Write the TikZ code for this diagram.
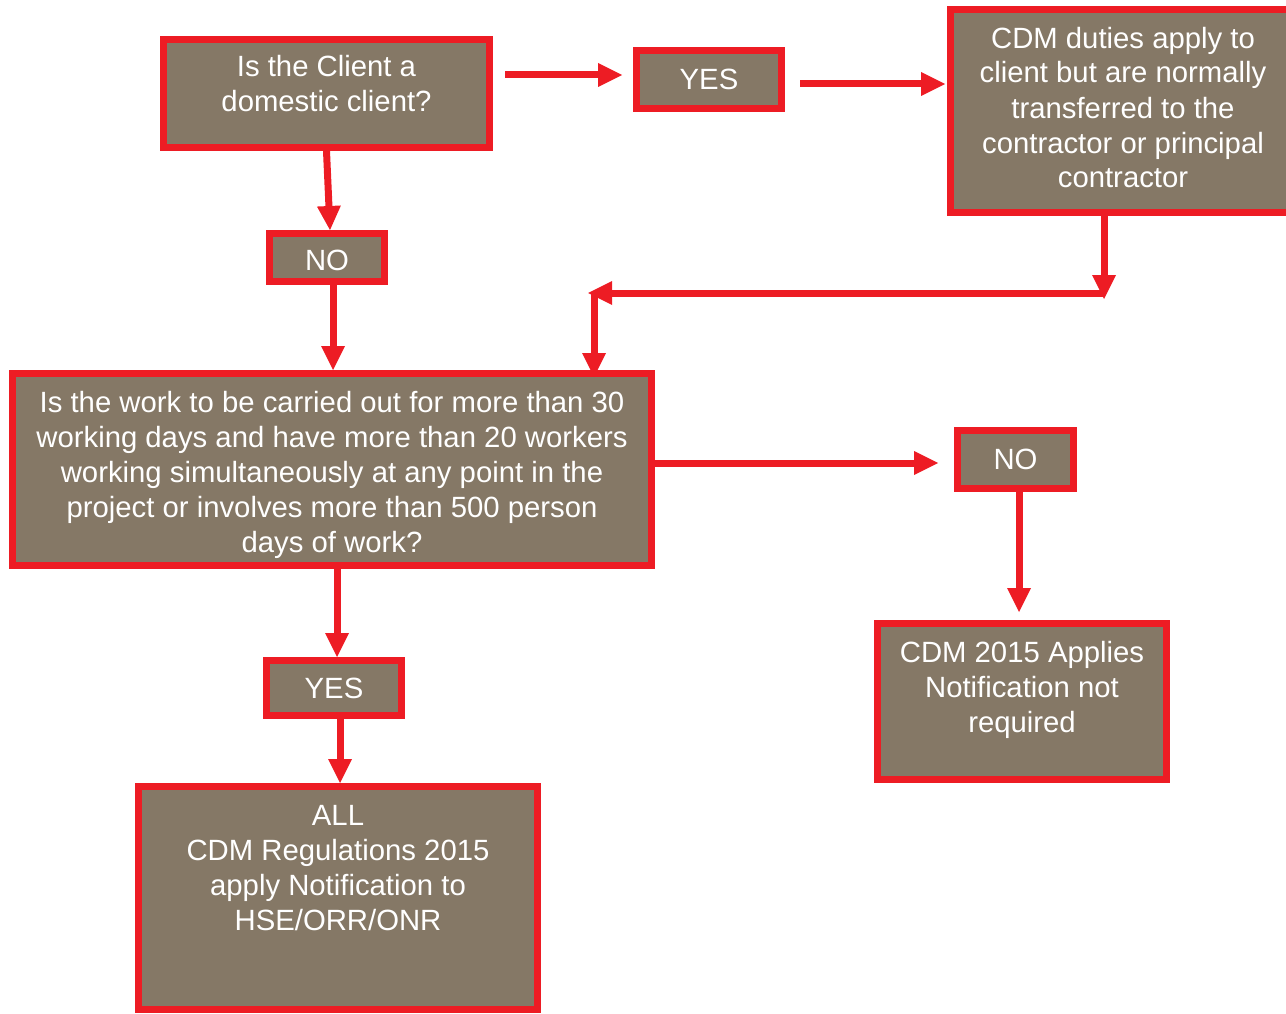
\documentclass[tikz,border=0pt]{standalone}
\usepackage{fontspec}
\setmainfont{Liberation Sans}
\usepackage{tikz}
\usetikzlibrary{arrows.meta}

\definecolor{cdmred}{RGB}{237,28,36}
\definecolor{cdmbrown}{RGB}{133,120,102}

\begin{document}
\begin{tikzpicture}[x=1pt, y=-1pt,
    box/.style={draw=cdmred, fill=cdmbrown, line width=7pt, outer sep=3.5pt, inner sep=0pt,
        text=white, align=center, font=\fontsize{29.3pt}{35pt}\selectfont},
    arr/.style={draw=cdmred, line width=7pt, -{Triangle[length=24pt, width=24pt, line width=0pt]}}]
\useasboundingbox (0,0) rectangle (1286,1014);

\node[box, minimum width=326pt, minimum height=108pt, text height=50pt, text depth=13pt] (client) at (326.5,93.5) {Is the Client a\\domestic client?};
\node[box, minimum width=145pt, minimum height=58pt] (yes1) at (709,79.5) {YES};
\node[box, minimum width=345pt, minimum height=203pt, text height=165pt, text depth=11pt] (duties) at (1123,111) {CDM duties apply to\\client but are normally\\transferred to the\\contractor or principal\\contractor};
\node[box, minimum width=115pt, minimum height=48pt, text height=25pt, text depth=0pt] (no1) at (327,257.5) {NO};
\node[box, minimum width=639pt, minimum height=192pt, text height=175pt, text depth=10pt] (question) at (332,469.5) {Is the work to be carried out for more than 30\\working days and have more than 20 workers\\working simultaneously at any point in the\\project or involves more than 500 person\\days of work?};
\node[box, minimum width=116pt, minimum height=58pt] (no2) at (1015.5,459.5) {NO};
\node[box, minimum width=289pt, minimum height=156pt, text height=80pt, text depth=19pt] (cdm15) at (1022,701.5) {CDM 2015 Applies\\Notification not\\required};
\node[box, minimum width=135pt, minimum height=55pt] (yes2) at (334,688) {YES};
\node[box, minimum width=399pt, minimum height=223pt, text height=90pt, text depth=26pt] (all) at (338,898) {ALL\\CDM Regulations 2015\\apply Notification to\\HSE/ORR/ONR};

\coordinate (rturn) at (1104,299);
\coordinate (lturn) at (588,293);

\draw[arr] ([xshift=12pt,yshift=18.5pt]client.east) -- ([xshift=-11pt,yshift=4.5pt]yes1.west);
\draw[arr] ([xshift=15pt,yshift=-4.5pt]yes1.east) -- ([xshift=-2pt,yshift=27pt]duties.west);
\draw[arr] (client.south) -- ([xshift=3pt]no1.north);
\draw[arr] ([xshift=6pt]no1.south) -- ([xshift=1pt]question.north);
\draw[arr] ([xshift=-19pt]duties.south) -- (rturn);
\draw[arr] ([yshift=6pt]rturn) -- (lturn);
\draw[arr] ([xshift=6pt]lturn) -- ([xshift=262pt,yshift=-7pt]question.north);
\draw[arr] ([yshift=6.5pt]question.east) -- ([xshift=-16pt,yshift=-3.5pt]no2.west);
\draw[arr] ([xshift=3.5pt]no2.south) -- ([xshift=-3pt,yshift=8pt]cdm15.north);
\draw[arr] ([xshift=5pt]question.south) -- ([xshift=3pt]yes2.north);
\draw[arr] ([xshift=6pt]yes2.south) -- ([xshift=2pt]all.north);

\end{tikzpicture}
\end{document}
